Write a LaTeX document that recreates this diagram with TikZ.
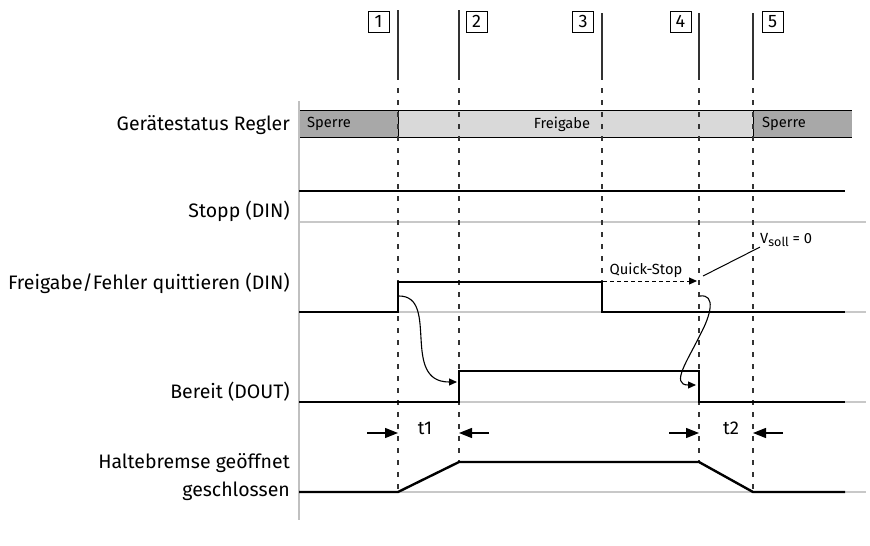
\documentclass[tikz,border=0pt]{standalone}
\usepackage{fontspec}
\setmainfont{Fira Sans}
\usetikzlibrary{arrows.meta}
\definecolor{refgray}{RGB}{200,200,200}
\definecolor{axisgray}{RGB}{192,192,192}
\definecolor{sperregray}{RGB}{168,168,168}
\definecolor{freigray}{RGB}{217,217,217}
\begin{document}
\begin{tikzpicture}[x=1pt,y=-1pt,
 sig/.style={line width=2.4pt, line join=miter, line cap=butt},
 refline/.style={line width=1.4pt, color=refgray},
 evt/.style={line width=1.2pt, color=black!80},
 evtdash/.style={evt, dash pattern=on 5pt off 7pt},
 lbl/.style={anchor=east, inner sep=0pt, font=\fontsize{19.5}{23}\selectfont},
 smalltxt/.style={inner sep=0pt, font=\fontsize{14.7}{17}\selectfont},
 numbox/.style={draw, line width=0.8pt, minimum width=21pt, minimum height=21pt, inner sep=0pt, font=\fontsize{18}{21}\selectfont},
 tlabel/.style={inner sep=0pt, font=\fontsize{18.5}{22}\selectfont},
 curvetip/.style={line width=1.1pt, -{Triangle[length=8pt,width=7pt]}},
 ttip/.style={line width=1.2pt, -{Triangle[length=13pt,width=10pt]}}
]
\useasboundingbox (0,0) rectangle (870,546);

% reference (low level) lines
\foreach \y in {222,312,402,492} \draw[refline] (299,\y) -- (866,\y);

% status bar
\fill[sperregray] (299,110) rectangle (398,137);
\fill[freigray] (398,110) rectangle (753,137);
\fill[sperregray] (753,110) rectangle (852,137);
\draw[line width=0.9pt] (299,110) -- (852,110) (299,137) -- (852,137)
  (398,110) -- (398,137) (753,110) -- (753,137);
\node[smalltxt, anchor=west] (sp1) at (307,124) {Sperre};
\node[smalltxt] (frg) at (562,124) {Freigabe};
\node[smalltxt, anchor=west] (sp2) at (762,124) {Sperre};

% axis
\coordinate (axT) at (299,101);
\coordinate (axB) at (299,520);
\draw[line width=1.4pt, axisgray] (axT) -- (axB);

% event lines
\foreach \x/\t/\b in {398/10/492, 459/10/462, 602/13/282, 699/13/462, 753/13/492} {
  \draw[evt] (\x,\t) -- (\x,80);
  \draw[evtdash] (\x,88) -- (\x,\b);
}
\node[numbox] (n1) at (378.5,21.5) {1};
\node[numbox] (n2) at (476.5,21.5) {2};
\node[numbox] (n3) at (583,21.5) {3};
\node[numbox] (n4) at (680.5,21.5) {4};
\node[numbox] (n5) at (772.5,21.5) {5};

% labels
\node[lbl] (lGer) at (290,125) {Gerätestatus Regler};
\node[lbl] (lStop) at (290,211) {Stopp (DIN)};
\node[lbl] (lFrei) at (290,283) {Freigabe/Fehler quittieren (DIN)};
\node[lbl] (lBer) at (290,392) {Bereit (DOUT)};
\node[lbl] (lHalt1) at (290,463) {Haltebremse geöffnet};
\node[lbl] (lHalt2) at (290,491) {geschlossen};

% signals
\draw[sig] (299,191) -- (845,191);
\draw[sig] (299,312) -- (398,312) -- (398,282) -- (602,282) -- (602,312) -- (845,312);
\draw[sig] (299,402) -- (459,402) -- (459,371) -- (699,371) -- (699,402) -- (845,402);
\draw[sig] (299,492) -- (398,492) -- (459,462) -- (699,462) -- (753,492) -- (845,492);

% curved arrows
\coordinate (c1s) at (399,296);
\coordinate (c1e) at (457,382);
\draw[curvetip] (c1s) .. controls (440,296) and (400,382) .. (c1e);
\coordinate (c2s) at (700,296);
\coordinate (c2m) at (700,335);
\coordinate (c2e) at (696,385);
\draw[curvetip] (c2s) .. controls (716,294) and (711,315) .. (c2m)
  .. controls (688,360) and (670,385) .. (c2e);

% Quick-Stop
\coordinate (qs0) at (603,281);
\coordinate (qs1) at (697,281);
\draw[line width=1pt, dash pattern=on 4pt off 3pt, -{Triangle[length=8pt,width=7pt]}] (qs0) -- (qs1);
\node[smalltxt] (qst) at (646,270) {Quick-Stop};

% V_soll
\node[smalltxt, anchor=west] (vs) at (760,240) {V\raisebox{-0.45ex}{\fontsize{12.5}{14}\selectfont soll} = 0};
\coordinate (vsl) at (703,276);
\draw[line width=1pt] (vsl) -- (vs.south west);

% t1, t2
\coordinate (a1) at (367,433); \coordinate (b1) at (398,433);
\coordinate (a2) at (489,433); \coordinate (b2) at (459,433);
\coordinate (a3) at (669,433); \coordinate (b3) at (699,433);
\coordinate (a4) at (783,433); \coordinate (b4) at (753,433);
\draw[ttip] (a1) -- (b1);
\draw[ttip] (a2) -- (b2);
\draw[ttip] (a3) -- (b3);
\draw[ttip] (a4) -- (b4);
\node[tlabel] (t1) at (425,428) {t1};
\node[tlabel] (t2) at (731,428) {t2};
\end{tikzpicture}
\end{document}
